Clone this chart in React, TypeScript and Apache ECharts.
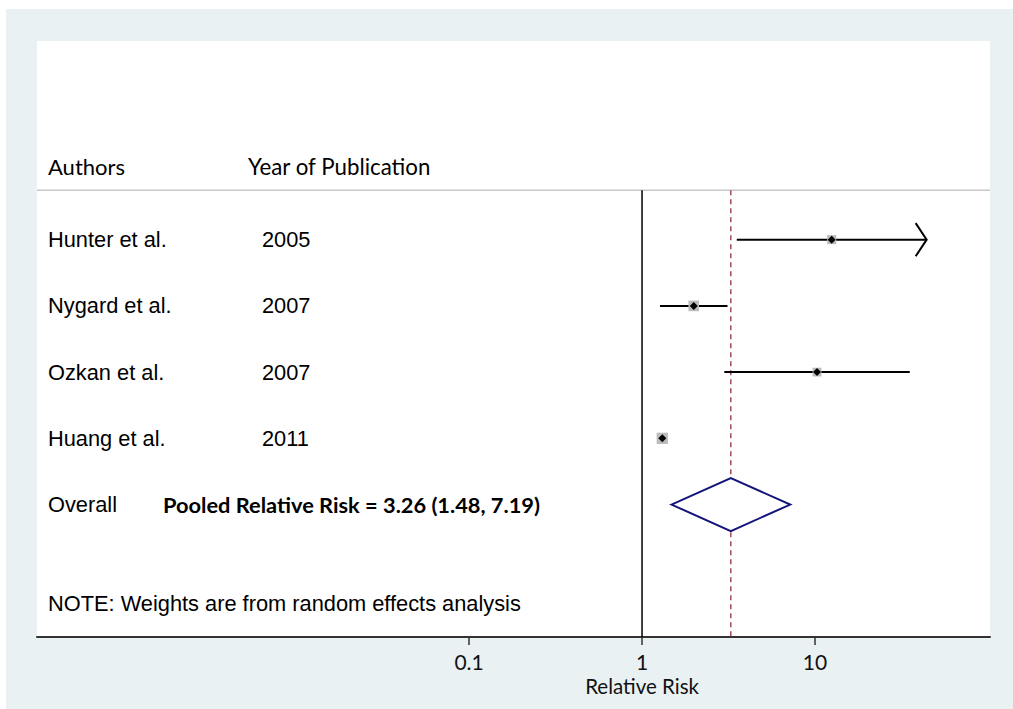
import React, { useEffect, useRef } from "react";
import * as echarts from "echarts";

// ---- data ----
const studies = ["Hunter et al.", "Nygard et al.", "Ozkan et al.", "Huang et al."];
const years = ["2005", "2007", "2007", "2011"];
const relRisk = [12.49, 1.99, 10.27, 1.31];
const ciLower = [3.53, 1.27, 2.99, 1.28];
const ciUpper = [44.2, 3.12, 35.3, 1.34];
const truncated = [true, false, false, false];
const weights = [20.5, 28.0, 19.5, 32.0];
const pooledValues = [3.26, 1.48, 7.19]; // estimate, lower, upper
const headers = ["Authors", "Year of Publication"];
const overallLabel = "Overall";
const pooledLabel = "Pooled Relative Risk = 3.26 (1.48, 7.19)";
const noteText = "NOTE: Weights are from random effects analysis";
const tickValues = [0.1, 1, 10];
const tickLabels = ["0.1", "1", "10"];
const axisTitle = "Relative Risk";
const xRange = [0.000318, 102.7];

// ---- layout ----
const ROW_HEADER = -1.1;
const ROW_SEP = -0.745;
const ROW_OVERALL = 4;
const ROW_NOTE = 5.5;
const Y_MIN = -3;
const Y_MAX = 6;
const SANS = "'Liberation Sans', Arial, sans-serif";
const LABEL = "Lato, 'Open Sans', sans-serif";

type TextItem = { text: string; dx: number; row: number; font: string; size: number; weight: string };

const textItems: TextItem[] = [
  { text: headers[0], dx: 11, row: ROW_HEADER, font: LABEL, size: 22, weight: "normal" },
  { text: headers[1], dx: 211, row: ROW_HEADER, font: LABEL, size: 22.3, weight: "normal" },
  ...studies.map((s, i) => ({ text: s, dx: 11, row: i, font: SANS, size: 21.8, weight: "normal" })),
  ...years.map((y, i) => ({ text: y, dx: 225, row: i, font: SANS, size: 21.8, weight: "normal" })),
  { text: overallLabel, dx: 11, row: ROW_OVERALL, font: SANS, size: 21.8, weight: "normal" },
  { text: pooledLabel, dx: 126, row: ROW_OVERALL, font: LABEL, size: 21.8, weight: "bold" },
  { text: noteText, dx: 11, row: ROW_NOTE, font: SANS, size: 21.8, weight: "normal" },
];

export default function App() {
  const ref = useRef<HTMLDivElement>(null);
  useEffect(() => {
    if (!ref.current) return;
    const chart = echarts.init(ref.current, null, { renderer: "svg" });
    const option: any = {
      animation: false,
      backgroundColor: "#e9f1f3",
      graphic: [
        { type: "rect", shape: { x: 0, y: 0, width: 6, height: 709 }, style: { fill: "#ffffff" } },
        { type: "rect", shape: { x: 0, y: 0, width: 1013, height: 9 }, style: { fill: "#ffffff" } },
      ],
      grid: {
        left: 37,
        top: 41,
        width: 953,
        height: 596,
        show: true,
        backgroundColor: "#ffffff",
        borderWidth: 0,
        containLabel: false,
        outerBoundsMode: "none",
      },
      xAxis: {
        type: "log",
        logBase: 10,
        min: xRange[0],
        max: xRange[1],
        axisLine: { show: true, onZero: false, lineStyle: { color: "#333333", width: 2 } },
        axisTick: { show: true, customValues: tickValues, length: 8, lineStyle: { color: "#333333", width: 1.5 } },
        axisLabel: {
          show: true,
          customValues: tickValues,
          margin: 14,
          fontFamily: LABEL,
          fontSize: 21,
          color: "#111111",
          formatter: (v: number) => {
            let best = 0;
            tickValues.forEach((t, k) => {
              if (Math.abs(Math.log10(t) - Math.log10(v)) < Math.abs(Math.log10(tickValues[best]) - Math.log10(v))) best = k;
            });
            return tickLabels[best];
          },
        },
        splitLine: { show: false },
        minorTick: { show: false },
      },
      yAxis: {
        type: "value",
        min: Y_MIN,
        max: Y_MAX,
        inverse: true,
        show: false,
        splitLine: { show: false },
      },
      series: [
        // reference lines and header separator
        {
          type: "custom",
          name: "refs",
          silent: true,
          data: [[pooledValues[0], ROW_SEP]],
          renderItem: (params: any, api: any) => {
            const cs = params.coordSys;
            const ySep = api.coord([1, ROW_SEP])[1];
            const yBot = api.coord([1, Y_MAX])[1];
            const x1 = api.coord([1, 0])[0];
            const xp = api.coord([api.value(0), 0])[0];
            return {
              type: "group",
              children: [
                { type: "line", shape: { x1: cs.x, y1: ySep, x2: cs.x + cs.width, y2: ySep }, style: { stroke: "#c8c8c8", lineWidth: 1.5 } },
                { type: "line", shape: { x1: x1, y1: ySep, x2: x1, y2: yBot }, style: { stroke: "#000000", lineWidth: 1.5 } },
                { type: "line", shape: { x1: xp, y1: ySep, x2: xp, y2: yBot }, style: { stroke: "#a54b55", lineWidth: 1.5, lineDash: [5, 4] } },
              ],
            };
          },
        },
        // studies
        {
          type: "custom",
          name: "studies",
          silent: true,
          data: studies.map((_, i) => [relRisk[i], i, ciLower[i], ciUpper[i], weights[i]]),
          renderItem: (params: any, api: any) => {
            const i = params.dataIndex;
            const row = api.value(1);
            const pc = api.coord([api.value(0), row]);
            const pLo = api.coord([api.value(2), row]);
            const pHi = api.coord([api.value(3), row]);
            const side = 2.0 * Math.sqrt(api.value(4));
            const d = 4;
            const children: any[] = [
              { type: "line", shape: { x1: pLo[0], y1: pc[1], x2: pHi[0], y2: pc[1] }, style: { stroke: "#000000", lineWidth: 2 } },
              { type: "rect", shape: { x: pc[0] - side / 2, y: pc[1] - side / 2, width: side, height: side }, style: { fill: "#bcbcbc" } },
              {
                type: "polygon",
                shape: { points: [[pc[0] - d, pc[1]], [pc[0], pc[1] - d], [pc[0] + d, pc[1]], [pc[0], pc[1] + d]] },
                style: { fill: "#000000" },
              },
            ];
            if (truncated[i]) {
              const ah = api.coord([1, row - 0.25])[1];
              const al = api.coord([1, row + 0.25])[1];
              children.push({
                type: "polyline",
                shape: { points: [[pHi[0] - 11, ah], [pHi[0], pc[1]], [pHi[0] - 11, al]] },
                style: { stroke: "#000000", lineWidth: 2, fill: "none" },
              });
            }
            return { type: "group", children };
          },
        },
        // pooled diamond
        {
          type: "custom",
          name: "pooled",
          silent: true,
          data: [[pooledValues[0], ROW_OVERALL, pooledValues[1], pooledValues[2]]],
          renderItem: (params: any, api: any) => {
            const row = api.value(1);
            const c = api.coord([api.value(0), row]);
            const lo = api.coord([api.value(2), row]);
            const hi = api.coord([api.value(3), row]);
            const top = api.coord([api.value(0), row - 0.4]);
            const bot = api.coord([api.value(0), row + 0.4]);
            return {
              type: "polygon",
              shape: { points: [[lo[0], c[1]], [top[0], top[1]], [hi[0], c[1]], [bot[0], bot[1]]] },
              style: { fill: "#ffffff", stroke: "#14147a", lineWidth: 2 },
            };
          },
        },
        // texts
        {
          type: "custom",
          name: "texts",
          silent: true,
          data: textItems.map((t) => [1, t.row]),
          renderItem: (params: any, api: any) => {
            const t = textItems[params.dataIndex];
            const cs = params.coordSys;
            const y = api.coord([1, api.value(1)])[1];
            return {
              type: "text",
              x: cs.x + t.dx,
              y: y,
              style: {
                text: t.text,
                fill: "#000000",
                font: `${t.weight} ${t.size}px ${t.font}`,
                textAlign: "left",
                textVerticalAlign: "middle",
              },
            };
          },
        },
        // axis title
        {
          type: "custom",
          name: "axisTitle",
          silent: true,
          data: [[1, Y_MAX]],
          renderItem: (params: any, api: any) => {
            const p = api.coord([api.value(0), api.value(1)]);
            return {
              type: "text",
              x: p[0],
              y: p[1] + 49,
              style: {
                text: axisTitle,
                fill: "#111111",
                font: `normal 20.5px ${LABEL}`,
                textAlign: "center",
                textVerticalAlign: "middle",
              },
            };
          },
        },
      ],
    };
    chart.setOption(option);
    return () => chart.dispose();
  }, []);
  return <div ref={ref} style={{ position: "absolute", left: 0, top: 0, width: 1013, height: 709 }} />;
}
